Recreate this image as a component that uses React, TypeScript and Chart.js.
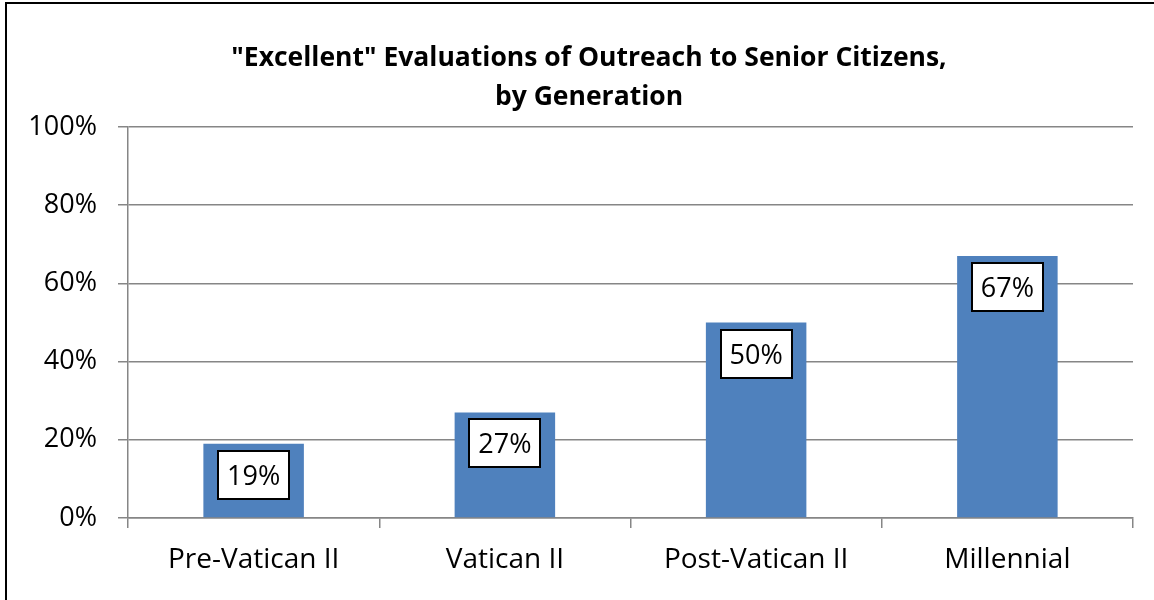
import React, { useEffect, useRef } from "react";
import { Chart, registerables } from "chart.js";

Chart.register(...registerables);

const categories = ["Pre-Vatican II", "Vatican II", "Post-Vatican II", "Millennial"];
const values = [19, 27, 50, 67];
const yTicks = [0, 20, 40, 60, 80, 100];
const titleLines = ['"Excellent" Evaluations of Outreach to Senior Citizens,', "by Generation"];

const FONT = "'Open Sans', sans-serif";
const GRID = "#868686";
const BAR = "#4F81BD";

const boxLabels = {
  id: "boxLabels",
  afterDatasetsDraw(chart: any) {
    const ctx = chart.ctx as CanvasRenderingContext2D;
    const meta = chart.getDatasetMeta(0);
    ctx.save();
    ctx.font = `27px ${FONT}`;
    meta.data.forEach((bar: any, i: number) => {
      const text = `${values[i]}%`;
      const tw = ctx.measureText(text).width;
      const w = Math.round(tw + 18);
      const h = 48;
      const x = Math.round(bar.x - w / 2);
      const y = Math.round(bar.y + 7);
      ctx.fillStyle = "#ffffff";
      ctx.fillRect(x, y, w, h);
      ctx.strokeStyle = "#000000";
      ctx.lineWidth = 2;
      ctx.strokeRect(x, y, w, h);
      ctx.fillStyle = "#000000";
      ctx.textAlign = "center";
      ctx.textBaseline = "middle";
      ctx.fillText(text, bar.x, y + h / 2 + 2);
    });
    ctx.restore();
  },
};

export default function App() {
  const ref = useRef<HTMLCanvasElement | null>(null);

  useEffect(() => {
    if (!ref.current) return;
    const chart = new Chart(ref.current, {
      type: "bar",
      data: {
        labels: categories,
        datasets: [
          {
            data: values,
            backgroundColor: BAR,
            borderWidth: 0,
            categoryPercentage: 1,
            barPercentage: 0.4,
          },
        ],
      },
      options: {
        responsive: false,
        animation: false,
        layout: { padding: { left: 24, right: 0, top: 0, bottom: 0 } },
        plugins: {
          legend: { display: false },
          tooltip: { enabled: false },
          title: {
            display: true,
            text: titleLines,
            color: "#000000",
            font: { family: FONT, size: 26.5, weight: "bold", lineHeight: 39 / 26.5 },
            padding: { top: 38.5, bottom: 10.5 },
          },
        },
        scales: {
          x: {
            grid: {
              drawOnChartArea: false,
              drawTicks: true,
              tickLength: 10,
              color: GRID,
              lineWidth: 1.5,
              offset: true,
            },
            border: { color: GRID, width: 1.5 },
            ticks: {
              color: "#000000",
              font: { family: FONT, size: 28 },
              padding: 15,
              maxRotation: 0,
            },
            afterFit: (scale: any) => {
              scale.height = 82;
            },
          },
          y: {
            min: 0,
            max: 100,
            afterBuildTicks: (scale: any) => {
              scale.ticks = yTicks.map((v) => ({ value: v }));
            },
            grid: {
              color: GRID,
              lineWidth: 1.5,
              tickLength: 10,
              drawTicks: true,
            },
            border: { color: GRID, width: 1.5 },
            ticks: {
              color: "#000000",
              font: { family: FONT, size: 27 },
              padding: 21,
              callback: (v: any) => `${v}%`,
            },
            afterFit: (scale: any) => {
              scale.width = 104;
            },
          },
          yRight: {
            position: "right",
            min: 0,
            max: 100,
            grid: { display: false, drawTicks: false },
            border: { display: false },
            ticks: { display: false },
            afterFit: (scale: any) => {
              scale.width = 21;
            },
          },
        },
      },
      plugins: [boxLabels],
    });
    return () => chart.destroy();
  }, []);

  return (
    <div
      style={{
        position: "absolute",
        left: 0,
        top: 0,
        width: 1154,
        height: 600,
        overflow: "hidden",
        background: "#ffffff",
      }}
    >
      <canvas ref={ref} width={1154} height={600} style={{ position: "absolute", left: 0, top: 0 }} />
      <div
        style={{
          position: "absolute",
          left: 5,
          top: 2,
          width: 1300,
          height: 800,
          border: "2px solid #000000",
          boxSizing: "border-box",
          pointerEvents: "none",
        }}
      />
    </div>
  );
}
